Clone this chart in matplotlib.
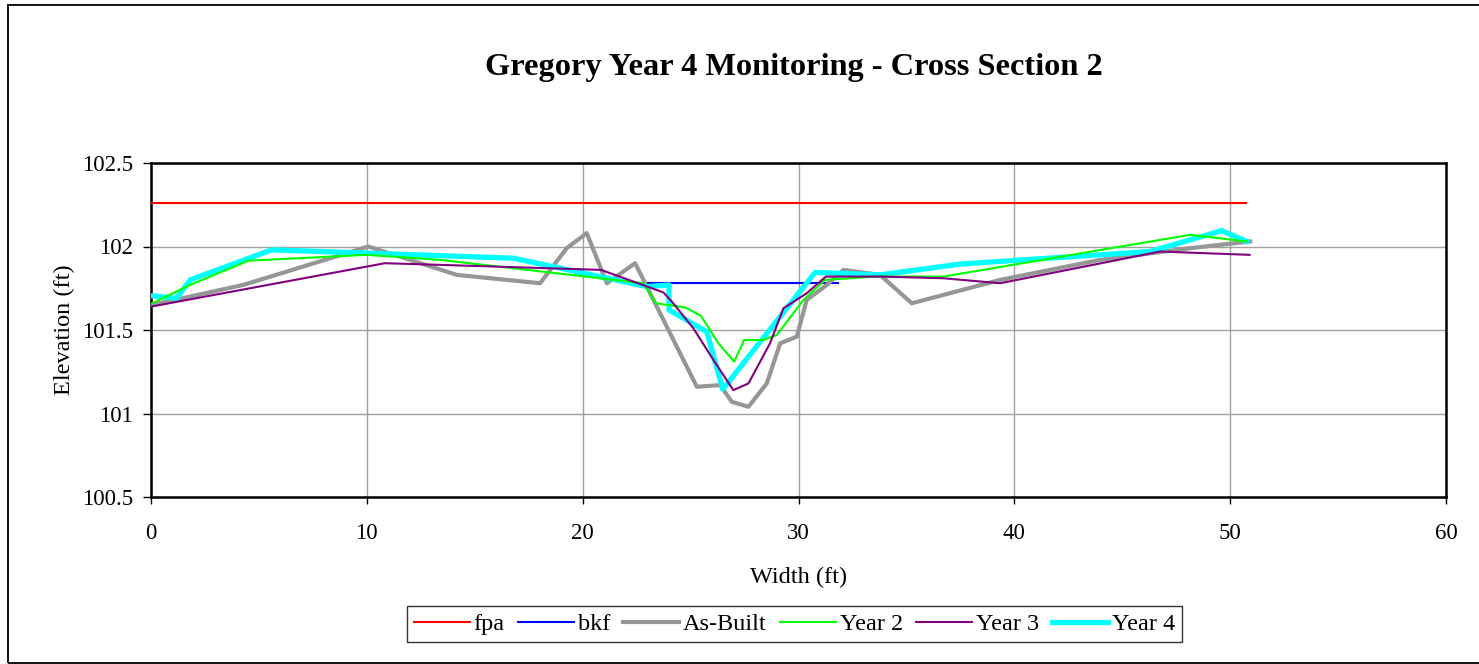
import matplotlib
matplotlib.use("Agg")
import matplotlib.pyplot as plt
from matplotlib.patches import Rectangle

plt.rcParams['font.family'] = ['Liberation Serif', 'DejaVu Serif']

# Floodprone and bankfull elevations (ft)
fpa_x = [0.0, 50.73]
fpa_y = [102.262, 102.262]
bkf_x = [22.97, 31.83]
bkf_y = [101.783, 101.783]

# Surveyed cross sections: station (ft) and elevation (ft)
asbuilt_x = [0.03, 4.28, 10.07, 14.17, 18.03, 19.26, 20.19, 21.12, 22.43,
             25.29, 26.37, 26.91, 27.68, 28.53, 29.15, 29.92, 30.38, 31.31,
             32.08, 33.78, 35.25, 39.34, 43.98, 48.15, 50.93]
asbuilt_y = [101.65, 101.77, 102.00, 101.83, 101.78, 101.99, 102.08, 101.78, 101.90,
             101.16, 101.17, 101.07, 101.04, 101.18, 101.42, 101.46, 101.68, 101.77,
             101.86, 101.83, 101.66, 101.80, 101.92, 101.99, 102.03]

year2_x = [0.0, 1.81, 4.51, 10.0, 13.4, 22.81, 23.40, 24.75, 25.48, 26.29,
           27.02, 27.48, 28.37, 28.99, 30.23, 31.23, 33.63, 36.72, 48.15, 50.77]
year2_y = [101.656, 101.77, 101.915, 101.95, 101.92, 101.78, 101.66, 101.635, 101.585, 101.42,
           101.31, 101.44, 101.44, 101.47, 101.68, 101.80, 101.82, 101.82, 102.07, 102.03]

year3_x = [0.0, 10.84, 13.4, 20.85, 23.74, 24.13, 25.13, 26.06, 26.98, 27.68,
           28.68, 29.30, 30.38, 31.27, 33.78, 36.70, 39.34, 46.76, 50.90]
year3_y = [101.64, 101.90, 101.89, 101.86, 101.725, 101.67, 101.51, 101.32, 101.14, 101.18,
           101.42, 101.63, 101.72, 101.82, 101.82, 101.81, 101.78, 101.97, 101.95]

year4_x = [0.0, 1.19, 1.81, 5.59, 16.79, 22.97, 24.0, 24.0, 25.75, 26.49,
           30.77, 33.78, 37.49, 46.29, 49.61, 50.77]
year4_y = [101.705, 101.69, 101.80, 101.98, 101.93, 101.76, 101.77, 101.62, 101.49, 101.145,
           101.845, 101.83, 101.895, 101.97, 102.095, 102.03]

x_ticks = [0, 10, 20, 30, 40, 50, 60]
y_ticks = [100.5, 101, 101.5, 102, 102.5]

W, H = 1479, 664
fig = plt.figure(figsize=(W / 100, H / 100), dpi=100)
fig.patch.set_facecolor('white')

# Chart border
fig.patches.append(Rectangle((8 / W, 1 - 663 / H), (W + 5 - 8) / W, (663 - 5) / H,
                             transform=fig.transFigure, fill=False,
                             edgecolor='black', linewidth=1.3, zorder=0))

left, right, top, bottom = 151, 1446, 163, 497
ax = fig.add_axes([left / W, 1 - bottom / H, (right - left) / W, (bottom - top) / H])

ax.plot(fpa_x, fpa_y, color='#FF0000', lw=1.5, label='fpa', zorder=3)
ax.plot(bkf_x, bkf_y, color='#0000FF', lw=1.5, label='bkf', zorder=3)
ax.plot(asbuilt_x, asbuilt_y, color='#969696', lw=3.0, label='As-Built', zorder=3)
ax.plot(year2_x, year2_y, color='#00FF00', lw=1.5, label='Year 2', zorder=4)
ax.plot(year3_x, year3_y, color='#800080', lw=1.5, label='Year 3', zorder=4)
ax.plot(year4_x, year4_y, color='#00FFFF', lw=3.8, label='Year 4', zorder=3.5)

ax.set_xlim(0, 60)
ax.set_ylim(100.5, 102.5)
ax.set_xticks(x_ticks)
ax.set_yticks(y_ticks)
ax.set_xticklabels([str(v) for v in x_ticks])
ax.set_yticklabels(['100.5', '101', '101.5', '102', '102.5'])
ax.grid(True, color='#A0A0A0', lw=1.0, zorder=0)
ax.set_axisbelow(True)
for s in ax.spines.values():
    s.set_linewidth(1.8)
    s.set_color('black')
ax.tick_params(axis='y', direction='out', length=6, width=1, color='black',
               labelsize=16.5, pad=7)
ax.tick_params(axis='x', direction='out', length=5, width=1, color='black',
               labelsize=16.5, pad=14)

ax.set_xlabel('Width (ft)', fontsize=17.5, labelpad=16)
ax.set_ylabel('Elevation (ft)', fontsize=17.5, labelpad=5)

fig.text(0.5 * (486 + 1101) / W, 1 - 68 / H, 'Gregory Year 4 Monitoring - Cross Section 2',
         ha='center', va='center', fontsize=23.3, fontweight='bold')

leg = fig.legend(loc='center', bbox_to_anchor=(794.5 / W, 1 - 624 / H), ncol=6,
                 fontsize=17.5, frameon=True, fancybox=False, edgecolor='black',
                 handlelength=2.3, handletextpad=0.15, columnspacing=0.55,
                 borderpad=0.3)
leg.get_frame().set_linewidth(1.0)

fig.savefig('out.png', dpi=100)
